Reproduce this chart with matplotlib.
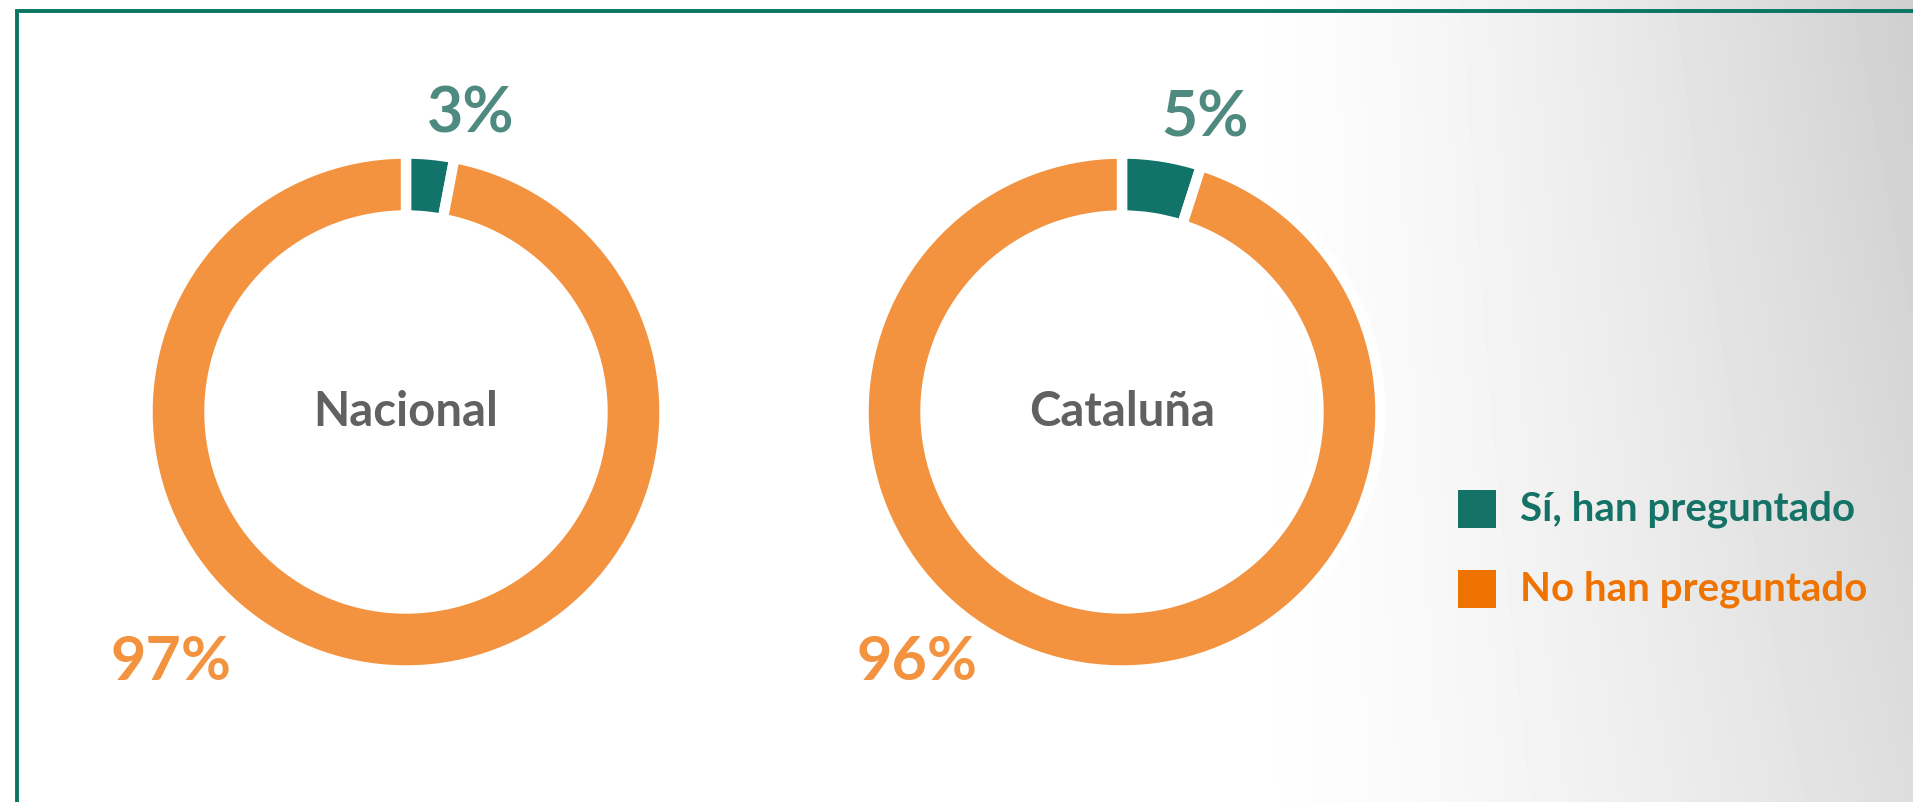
import numpy as np
import matplotlib
matplotlib.use('Agg')
import matplotlib.pyplot as plt
from matplotlib.patches import Rectangle

plt.rcParams['font.family'] = ['Lato', 'DejaVu Sans']

# data
regions = ['Nacional', 'Cataluña']
si_pct = [3, 5]
no_pct = [97, 96]
legend_labels = ['Sí, han preguntado', 'No han preguntado']

# colours
c_si = '#12736a'
c_no = '#f39340'
c_si_txt = '#4f8a80'
c_leg_si = '#147366'
c_leg_no = '#ee7300'
c_frame = '#0b7563'

W, H = 1913, 802
fig = plt.figure(figsize=(W / 100, H / 100), dpi=100)

# soft grey background on the right side
bg = fig.add_axes([0, 0, 1, 1])
xx = np.linspace(0, 1, 400)
yy = np.linspace(0, 1, 200)
X, Y = np.meshgrid(xx, yy)
t = np.clip((X - 0.64) / 0.36, 0, 1)
shade = 1 - 0.19 * t ** 1.4 * (1 - 0.3 * Y)
bg.imshow(shade, cmap='gray', vmin=0, vmax=1, extent=[0, 1, 0, 1],
          aspect='auto', interpolation='bilinear')
bg.axis('off')

ax = fig.add_axes([0, 0, 1, 1])
ax.patch.set_alpha(0)

centers = [(406, 390), (1122, 390)]
R = 258.5
ring = 62
gap = 7.5
pct_off = [(-235, -250), (-205, -250)]

for i, name in enumerate(regions):
    cx, cy = centers[i]
    vals = [si_pct[i], no_pct[i]]
    ax.pie(vals, center=(cx, cy), radius=R, startangle=90, counterclock=False,
           colors=[c_si, c_no],
           wedgeprops=dict(width=ring, edgecolor='white', linewidth=gap))
    ax.text(cx, cy, name, ha='center', va='center', fontsize=34,
            fontweight='bold', color='#5f6260')
    # small share label above its wedge
    frac = vals[0] / sum(vals)
    ang = np.deg2rad(90 - 360 * frac / 2 - 7)
    ax.text(cx + 1.17 * R * np.cos(ang), cy + 1.18 * R * np.sin(ang),
            f'{si_pct[i]}%', ha='center', va='center', fontsize=45,
            fontweight='bold', color=c_si_txt)
    dx, dy = pct_off[i]
    ax.text(cx + dx, cy + dy, f'{no_pct[i]}%', ha='center', va='center',
            fontsize=44, fontweight='bold', color=c_no)

# legend
for j, (lab, col) in enumerate(zip(legend_labels, [c_leg_si, c_leg_no])):
    ly = 293 - j * 80
    ax.add_patch(Rectangle((1458, ly - 19), 38, 38, color=col, lw=0))
    ax.text(1520, ly, lab, ha='left', va='center', fontsize=29,
            fontweight='bold', color=col)

ax.set_xlim(0, W)
ax.set_ylim(0, H)
ax.set_aspect('auto')
ax.axis('off')

# frame line (top and left edges visible)
ax.plot([17, 17, W + 5], [-5, H - 11, H - 11], color=c_frame, lw=2.8,
        solid_joinstyle='miter', clip_on=False)

fig.savefig('out.png', dpi=100)
